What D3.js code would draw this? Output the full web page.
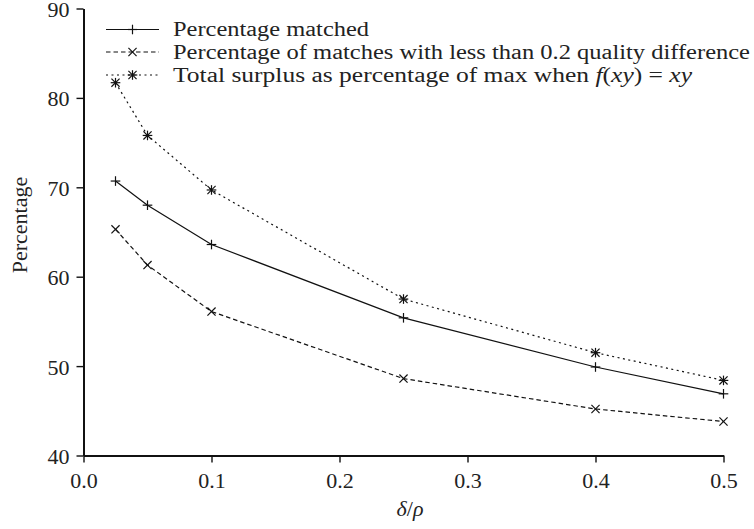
<!DOCTYPE html>
<html><head><meta charset="utf-8">
<script src="https://cdn.jsdelivr.net/npm/d3@7"></script>
<style>
body{margin:0;background:#fff;}
svg text{font-family:'Liberation Serif','Times New Roman',Times,serif !important;fill:#222;}
</style></head>
<body>
<svg id="chart" width="754" height="529"></svg>
<script>
const xValues = [0.025, 0.05, 0.1, 0.25, 0.4, 0.5];
const matched = [70.7, 68.0, 63.6, 55.4, 49.9, 46.9];
const quality = [65.3, 61.3, 56.1, 48.6, 45.2, 43.8];
const surplus = [81.7, 75.8, 69.7, 57.5, 51.5, 48.4];
const xTicks = [0.0, 0.1, 0.2, 0.3, 0.4, 0.5];
const yTicks = [40, 50, 60, 70, 80, 90];
const seriesNames = ["Percentage matched", "Percentage of matches with less than 0.2 quality difference", "Total surplus as percentage of max when "];

const svg = d3.select("#chart");
const x = d3.scaleLinear().domain([0, 0.5]).range([83.5, 723.5]);
const y = d3.scaleLinear().domain([40, 90]).range([455.5, 8.5]);
const fs = 22;

const gx = svg.append("g").attr("transform", `translate(0,${y(40)})`)
  .call(d3.axisBottom(x).tickValues(xTicks).tickFormat(d3.format(".1f")).tickSize(7).tickSizeOuter(0).tickPadding(6));
const gy = svg.append("g").attr("transform", `translate(${x(0)},0)`)
  .call(d3.axisLeft(y).tickValues(yTicks).tickFormat(d3.format("d")).tickSize(7).tickSizeOuter(0).tickPadding(7));
[gx, gy].forEach(g => {
  g.attr("font-family", null);
  g.select(".domain").attr("stroke", "#111").attr("stroke-width", 2);
  g.selectAll(".tick line").attr("stroke", "#111").attr("stroke-width", 1.4);
  g.selectAll(".tick text").attr("font-size", fs).attr("fill", "#222");
});
gy.selectAll(".tick text").attr("dy", "0.36em");
gx.selectAll(".tick text").attr("dy", "0.9em");

const xl = svg.append("text").attr("x", 410).attr("y", 516).attr("text-anchor", "middle").attr("font-size", fs);
xl.append("tspan").attr("font-style", "italic").text("δ");
xl.append("tspan").text("/");
xl.append("tspan").attr("font-style", "italic").text("ρ");
svg.append("text").attr("transform", `translate(27,225) rotate(-90)`).attr("text-anchor", "middle").attr("font-size", fs).text("Percentage");

const series = [
  {vals: matched, dash: null, marker: "plus"},
  {vals: quality, dash: "4.5,3", marker: "cross"},
  {vals: surplus, dash: "2,3.5", marker: "star"}
];
const line = d3.line().x(d => x(d[0])).y(d => y(d[1]));
const ms = 4.8;
function drawMarker(g, cx, cy, type) {
  const segs = [];
  if (type === "plus" || type === "star") { segs.push([cx - ms, cy, cx + ms, cy], [cx, cy - ms, cx, cy + ms]); }
  if (type === "cross" || type === "star") { const k = ms * 0.85; segs.push([cx - k, cy - k, cx + k, cy + k], [cx - k, cy + k, cx + k, cy - k]); }
  segs.forEach(s => g.append("line").attr("x1", s[0]).attr("y1", s[1]).attr("x2", s[2]).attr("y2", s[3]).attr("stroke", "#111").attr("stroke-width", 1.2));
}
series.forEach(s => {
  const pts = xValues.map((xv, i) => [xv, s.vals[i]]);
  svg.append("path").datum(pts).attr("d", line).attr("fill", "none").attr("stroke", "#111").attr("stroke-width", 1.2)
    .attr("stroke-dasharray", s.dash);
  const g = svg.append("g");
  pts.forEach(p => drawMarker(g, x(p[0]), y(p[1]), s.marker));
});

const legY = [29.5, 52, 75];
const legW = [196, 577, 519];
series.forEach((s, i) => {
  const ly = legY[i];
  svg.append("line").attr("x1", 106).attr("x2", 159).attr("y1", ly).attr("y2", ly).attr("stroke", "#111").attr("stroke-width", 1.2).attr("stroke-dasharray", s.dash);
  drawMarker(svg.append("g"), 132.5, ly, s.marker);
  const t = svg.append("text").attr("x", 173).attr("y", ly + 6.5).attr("font-size", 20.5)
    .attr("textLength", legW[i]).attr("lengthAdjust", "spacingAndGlyphs");
  t.append("tspan").text(seriesNames[i]);
  if (i === 2) {
    t.append("tspan").attr("font-style", "italic").text("f");
    t.append("tspan").text("(");
    t.append("tspan").attr("font-style", "italic").text("xy");
    t.append("tspan").text(") = ");
    t.append("tspan").attr("font-style", "italic").text("xy");
  }
});
</script>
</body></html>
